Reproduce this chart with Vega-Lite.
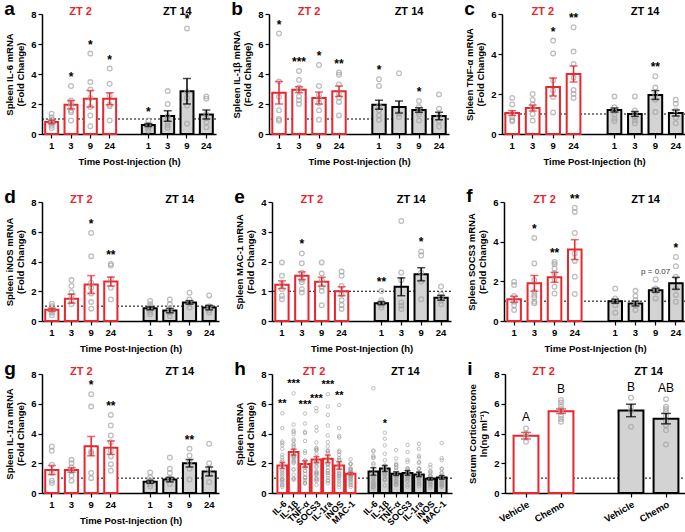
{
"$schema":"https://vega.github.io/schema/vega-lite/v6.json",
"padding":{"left":4,"top":0,"right":0,"bottom":0},
"config":{"font":"Liberation Sans","view":{"stroke":null},
"axis":{"labelFont":"Liberation Sans","titleFont":"Liberation Sans","labelFontWeight":"bold","labelFontSize":9.5,"labelColor":"black","titleFontSize":9.5,"titleFontWeight":"bold","titleColor":"black","domainColor":"black","domainWidth":1.5,"tickColor":"black","tickWidth":1.2,"tickSize":4,"labelPadding":2,"grid":false},
"axisX":{"titlePadding":7},
"axisY":{"titlePadding":5,"titleLineHeight":11.5,"labelOverlap":false},
"title":{"fontSize":19,"fontWeight":"bold","anchor":"start","frame":"bounds","offset":-13,"color":"black","font":"Liberation Sans"}},
"data":{"name":"d"},
"datasets":{"d":[
{"p":"a","x":"ZT2 1","g":"ZT 2","m":0.8,"e":0.12},
{"p":"a","x":"ZT2 3","g":"ZT 2","m":1.95,"e":0.28,"s":"*"},
{"p":"a","x":"ZT2 9","g":"ZT 2","m":2.35,"e":0.55,"s":"*"},
{"p":"a","x":"ZT2 24","g":"ZT 2","m":2.35,"e":0.4,"s":"*"},
{"p":"a","x":"ZT14 1","g":"ZT 14","m":0.6,"e":0.1,"s":"*"},
{"p":"a","x":"ZT14 3","g":"ZT 14","m":1.2,"e":0.35},
{"p":"a","x":"ZT14 9","g":"ZT 14","m":2.85,"e":0.85,"s":"*"},
{"p":"a","x":"ZT14 24","g":"ZT 14","m":1.3,"e":0.3},
{"p":"b","x":"ZT2 1","g":"ZT 2","m":2.75,"e":0.75,"s":"*"},
{"p":"b","x":"ZT2 3","g":"ZT 2","m":2.95,"e":0.2,"s":"***"},
{"p":"b","x":"ZT2 9","g":"ZT 2","m":2.4,"e":0.4,"s":"*"},
{"p":"b","x":"ZT2 24","g":"ZT 2","m":2.85,"e":0.35,"s":"**"},
{"p":"b","x":"ZT14 1","g":"ZT 14","m":1.95,"e":0.3,"s":"*"},
{"p":"b","x":"ZT14 3","g":"ZT 14","m":1.8,"e":0.4},
{"p":"b","x":"ZT14 9","g":"ZT 14","m":1.6,"e":0.15,"s":"*"},
{"p":"b","x":"ZT14 24","g":"ZT 14","m":1.2,"e":0.25},
{"p":"c","x":"ZT2 1","g":"ZT 2","m":1.05,"e":0.12},
{"p":"c","x":"ZT2 3","g":"ZT 2","m":1.3,"e":0.15},
{"p":"c","x":"ZT2 9","g":"ZT 2","m":2.35,"e":0.45,"s":"*"},
{"p":"c","x":"ZT2 24","g":"ZT 2","m":3.0,"e":0.4,"s":"**"},
{"p":"c","x":"ZT14 1","g":"ZT 14","m":1.2,"e":0.1},
{"p":"c","x":"ZT14 3","g":"ZT 14","m":1.0,"e":0.12},
{"p":"c","x":"ZT14 9","g":"ZT 14","m":1.95,"e":0.22,"s":"**"},
{"p":"c","x":"ZT14 24","g":"ZT 14","m":1.05,"e":0.15},
{"p":"d","x":"ZT2 1","g":"ZT 2","m":0.75,"e":0.1},
{"p":"d","x":"ZT2 3","g":"ZT 2","m":1.5,"e":0.3},
{"p":"d","x":"ZT2 9","g":"ZT 2","m":2.45,"e":0.6,"s":"*"},
{"p":"d","x":"ZT2 24","g":"ZT 2","m":2.65,"e":0.3,"s":"**"},
{"p":"d","x":"ZT14 1","g":"ZT 14","m":0.85,"e":0.1},
{"p":"d","x":"ZT14 3","g":"ZT 14","m":0.7,"e":0.15},
{"p":"d","x":"ZT14 9","g":"ZT 14","m":1.25,"e":0.12},
{"p":"d","x":"ZT14 24","g":"ZT 14","m":0.9,"e":0.15},
{"p":"e","x":"ZT2 1","g":"ZT 2","m":1.22,"e":0.13},
{"p":"e","x":"ZT2 3","g":"ZT 2","m":1.52,"e":0.13,"s":"*"},
{"p":"e","x":"ZT2 9","g":"ZT 2","m":1.32,"e":0.15},
{"p":"e","x":"ZT2 24","g":"ZT 2","m":1.0,"e":0.15},
{"p":"e","x":"ZT14 1","g":"ZT 14","m":0.6,"e":0.05,"s":"**"},
{"p":"e","x":"ZT14 3","g":"ZT 14","m":1.15,"e":0.3},
{"p":"e","x":"ZT14 9","g":"ZT 14","m":1.57,"e":0.22,"s":"*"},
{"p":"e","x":"ZT14 24","g":"ZT 14","m":0.78,"e":0.08},
{"p":"f","x":"ZT2 1","g":"ZT 2","m":1.1,"e":0.15},
{"p":"f","x":"ZT2 3","g":"ZT 2","m":1.9,"e":0.4,"s":"*"},
{"p":"f","x":"ZT2 9","g":"ZT 2","m":2.2,"e":0.25,"s":"**"},
{"p":"f","x":"ZT2 24","g":"ZT 2","m":3.6,"e":0.5,"s":"**"},
{"p":"f","x":"ZT14 1","g":"ZT 14","m":1.0,"e":0.1},
{"p":"f","x":"ZT14 3","g":"ZT 14","m":0.88,"e":0.12},
{"p":"f","x":"ZT14 9","g":"ZT 14","m":1.55,"e":0.1,"s":"p = 0.07"},
{"p":"f","x":"ZT14 24","g":"ZT 14","m":1.9,"e":0.3,"s":"*"},
{"p":"g","x":"ZT2 1","g":"ZT 2","m":1.55,"e":0.3},
{"p":"g","x":"ZT2 3","g":"ZT 2","m":1.55,"e":0.15},
{"p":"g","x":"ZT2 9","g":"ZT 2","m":3.15,"e":0.65,"s":"*"},
{"p":"g","x":"ZT2 24","g":"ZT 2","m":3.05,"e":0.45,"s":"**"},
{"p":"g","x":"ZT14 1","g":"ZT 14","m":0.75,"e":0.1},
{"p":"g","x":"ZT14 3","g":"ZT 14","m":0.9,"e":0.15},
{"p":"g","x":"ZT14 9","g":"ZT 14","m":2.0,"e":0.25,"s":"**"},
{"p":"g","x":"ZT14 24","g":"ZT 14","m":1.45,"e":0.3},
{"p":"h","h":"ZT2 IL-6","g":"ZT 2","m":1.85,"e":0.2,"s":"**"},
{"p":"h","h":"ZT2 IL-1β","g":"ZT 2","m":2.75,"e":0.2,"s":"***"},
{"p":"h","h":"ZT2 TNF-α","g":"ZT 2","m":1.95,"e":0.22,"s":"***"},
{"p":"h","h":"ZT2 SOCS3","g":"ZT 2","m":2.25,"e":0.2,"s":"***"},
{"p":"h","h":"ZT2 IL-1ra","g":"ZT 2","m":2.3,"e":0.25,"s":"***"},
{"p":"h","h":"ZT2 iNOS","g":"ZT 2","m":1.85,"e":0.25,"s":"**"},
{"p":"h","h":"ZT2 MAC-1","g":"ZT 2","m":1.3,"e":0.08},
{"p":"h","h":"ZT14 IL-6","g":"ZT 14","m":1.45,"e":0.25},
{"p":"h","h":"ZT14 IL-1β","g":"ZT 14","m":1.65,"e":0.2,"s":"*"},
{"p":"h","h":"ZT14 TNF-α","g":"ZT 14","m":1.3,"e":0.12},
{"p":"h","h":"ZT14 SOCS3","g":"ZT 14","m":1.35,"e":0.15},
{"p":"h","h":"ZT14 IL-1ra","g":"ZT 14","m":1.25,"e":0.15},
{"p":"h","h":"ZT14 iNOS","g":"ZT 14","m":0.95,"e":0.08},
{"p":"h","h":"ZT14 MAC-1","g":"ZT 14","m":1.05,"e":0.12},
{"p":"i","x":"ZT2 Vehicle","g":"ZT 2","m":3.85,"e":0.22,"s":"A"},
{"p":"i","x":"ZT2 Chemo","g":"ZT 2","m":5.5,"e":0.15,"s":"B"},
{"p":"i","x":"ZT14 Vehicle","g":"ZT 14","m":5.55,"e":0.42,"s":"B"},
{"p":"i","x":"ZT14 Chemo","g":"ZT 14","m":5.0,"e":0.35,"s":"AB"},
{"p":"a","x":"ZT2 1","h":"ZT2 IL-6","v":1.35},{"p":"a","x":"ZT2 1","h":"ZT2 IL-6","v":1.1},{"p":"a","x":"ZT2 1","h":"ZT2 IL-6","v":0.95},{"p":"a","x":"ZT2 1","h":"ZT2 IL-6","v":0.8},{"p":"a","x":"ZT2 1","h":"ZT2 IL-6","v":0.7},{"p":"a","x":"ZT2 1","h":"ZT2 IL-6","v":0.55},{"p":"a","x":"ZT2 1","h":"ZT2 IL-6","v":0.4},
{"p":"a","x":"ZT2 3","h":"ZT2 IL-6","v":3.2},{"p":"a","x":"ZT2 3","h":"ZT2 IL-6","v":2.23},{"p":"a","x":"ZT2 3","h":"ZT2 IL-6","v":2.1},{"p":"a","x":"ZT2 3","h":"ZT2 IL-6","v":1.85},{"p":"a","x":"ZT2 3","h":"ZT2 IL-6","v":1.55},{"p":"a","x":"ZT2 3","h":"ZT2 IL-6","v":1.45},{"p":"a","x":"ZT2 3","h":"ZT2 IL-6","v":0.9},
{"p":"a","x":"ZT2 9","h":"ZT2 IL-6","v":5.36},{"p":"a","x":"ZT2 9","h":"ZT2 IL-6","v":3.46},{"p":"a","x":"ZT2 9","h":"ZT2 IL-6","v":2.97},{"p":"a","x":"ZT2 9","h":"ZT2 IL-6","v":2.4},{"p":"a","x":"ZT2 9","h":"ZT2 IL-6","v":1.8},{"p":"a","x":"ZT2 9","h":"ZT2 IL-6","v":1.23},{"p":"a","x":"ZT2 9","h":"ZT2 IL-6","v":0.52},
{"p":"a","x":"ZT2 24","h":"ZT2 IL-6","v":4.36},{"p":"a","x":"ZT2 24","h":"ZT2 IL-6","v":3.35},{"p":"a","x":"ZT2 24","h":"ZT2 IL-6","v":2.57},{"p":"a","x":"ZT2 24","h":"ZT2 IL-6","v":1.95},{"p":"a","x":"ZT2 24","h":"ZT2 IL-6","v":1.85},{"p":"a","x":"ZT2 24","h":"ZT2 IL-6","v":0.9},
{"p":"a","x":"ZT14 1","h":"ZT14 IL-6","v":0.9},{"p":"a","x":"ZT14 1","h":"ZT14 IL-6","v":0.6},{"p":"a","x":"ZT14 1","h":"ZT14 IL-6","v":0.45},{"p":"a","x":"ZT14 1","h":"ZT14 IL-6","v":0.35},{"p":"a","x":"ZT14 1","h":"ZT14 IL-6","v":0.22},
{"p":"a","x":"ZT14 3","h":"ZT14 IL-6","v":2.86},{"p":"a","x":"ZT14 3","h":"ZT14 IL-6","v":2.0},{"p":"a","x":"ZT14 3","h":"ZT14 IL-6","v":1.18},{"p":"a","x":"ZT14 3","h":"ZT14 IL-6","v":1.0},{"p":"a","x":"ZT14 3","h":"ZT14 IL-6","v":0.74},{"p":"a","x":"ZT14 3","h":"ZT14 IL-6","v":0.56},{"p":"a","x":"ZT14 3","h":"ZT14 IL-6","v":0.4},
{"p":"a","x":"ZT14 9","h":"ZT14 IL-6","v":7.04},{"p":"a","x":"ZT14 9","h":"ZT14 IL-6","v":2.8},{"p":"a","x":"ZT14 9","h":"ZT14 IL-6","v":2.4},{"p":"a","x":"ZT14 9","h":"ZT14 IL-6","v":1.9},{"p":"a","x":"ZT14 9","h":"ZT14 IL-6","v":0.68},
{"p":"a","x":"ZT14 24","h":"ZT14 IL-6","v":2.5},{"p":"a","x":"ZT14 24","h":"ZT14 IL-6","v":2.35},{"p":"a","x":"ZT14 24","h":"ZT14 IL-6","v":1.34},{"p":"a","x":"ZT14 24","h":"ZT14 IL-6","v":1.05},{"p":"a","x":"ZT14 24","h":"ZT14 IL-6","v":0.78},{"p":"a","x":"ZT14 24","h":"ZT14 IL-6","v":0.45},
{"p":"b","x":"ZT2 1","h":"ZT2 IL-1β","v":6.7},{"p":"b","x":"ZT2 1","h":"ZT2 IL-1β","v":3.5},{"p":"b","x":"ZT2 1","h":"ZT2 IL-1β","v":2.48},{"p":"b","x":"ZT2 1","h":"ZT2 IL-1β","v":1.58},{"p":"b","x":"ZT2 1","h":"ZT2 IL-1β","v":1.0},{"p":"b","x":"ZT2 1","h":"ZT2 IL-1β","v":0.88},
{"p":"b","x":"ZT2 3","h":"ZT2 IL-1β","v":4.2},{"p":"b","x":"ZT2 3","h":"ZT2 IL-1β","v":3.6},{"p":"b","x":"ZT2 3","h":"ZT2 IL-1β","v":3.1},{"p":"b","x":"ZT2 3","h":"ZT2 IL-1β","v":2.9},{"p":"b","x":"ZT2 3","h":"ZT2 IL-1β","v":2.5},{"p":"b","x":"ZT2 3","h":"ZT2 IL-1β","v":2.25},{"p":"b","x":"ZT2 3","h":"ZT2 IL-1β","v":2.0},
{"p":"b","x":"ZT2 9","h":"ZT2 IL-1β","v":4.6},{"p":"b","x":"ZT2 9","h":"ZT2 IL-1β","v":3.2},{"p":"b","x":"ZT2 9","h":"ZT2 IL-1β","v":2.6},{"p":"b","x":"ZT2 9","h":"ZT2 IL-1β","v":2.36},{"p":"b","x":"ZT2 9","h":"ZT2 IL-1β","v":2.07},{"p":"b","x":"ZT2 9","h":"ZT2 IL-1β","v":1.58},{"p":"b","x":"ZT2 9","h":"ZT2 IL-1β","v":0.95},
{"p":"b","x":"ZT2 24","h":"ZT2 IL-1β","v":4.1},{"p":"b","x":"ZT2 24","h":"ZT2 IL-1β","v":3.95},{"p":"b","x":"ZT2 24","h":"ZT2 IL-1β","v":3.3},{"p":"b","x":"ZT2 24","h":"ZT2 IL-1β","v":2.66},{"p":"b","x":"ZT2 24","h":"ZT2 IL-1β","v":2.43},{"p":"b","x":"ZT2 24","h":"ZT2 IL-1β","v":2.14},{"p":"b","x":"ZT2 24","h":"ZT2 IL-1β","v":1.24},
{"p":"b","x":"ZT14 1","h":"ZT14 IL-1β","v":3.65},{"p":"b","x":"ZT14 1","h":"ZT14 IL-1β","v":3.2},{"p":"b","x":"ZT14 1","h":"ZT14 IL-1β","v":1.85},{"p":"b","x":"ZT14 1","h":"ZT14 IL-1β","v":1.58},{"p":"b","x":"ZT14 1","h":"ZT14 IL-1β","v":1.24},{"p":"b","x":"ZT14 1","h":"ZT14 IL-1β","v":0.95},
{"p":"b","x":"ZT14 3","h":"ZT14 IL-1β","v":4.05},{"p":"b","x":"ZT14 3","h":"ZT14 IL-1β","v":1.35},{"p":"b","x":"ZT14 3","h":"ZT14 IL-1β","v":1.13},
{"p":"b","x":"ZT14 9","h":"ZT14 IL-1β","v":2.2},{"p":"b","x":"ZT14 9","h":"ZT14 IL-1β","v":1.8},{"p":"b","x":"ZT14 9","h":"ZT14 IL-1β","v":1.46},{"p":"b","x":"ZT14 9","h":"ZT14 IL-1β","v":1.3},{"p":"b","x":"ZT14 9","h":"ZT14 IL-1β","v":0.9},
{"p":"b","x":"ZT14 24","h":"ZT14 IL-1β","v":2.64},{"p":"b","x":"ZT14 24","h":"ZT14 IL-1β","v":1.69},{"p":"b","x":"ZT14 24","h":"ZT14 IL-1β","v":1.24},{"p":"b","x":"ZT14 24","h":"ZT14 IL-1β","v":0.87},{"p":"b","x":"ZT14 24","h":"ZT14 IL-1β","v":0.5},
{"p":"c","x":"ZT2 1","h":"ZT2 TNF-α","v":1.8},{"p":"c","x":"ZT2 1","h":"ZT2 TNF-α","v":1.48},{"p":"c","x":"ZT2 1","h":"ZT2 TNF-α","v":1.04},{"p":"c","x":"ZT2 1","h":"ZT2 TNF-α","v":0.84},{"p":"c","x":"ZT2 1","h":"ZT2 TNF-α","v":0.7},{"p":"c","x":"ZT2 1","h":"ZT2 TNF-α","v":0.64},
{"p":"c","x":"ZT2 3","h":"ZT2 TNF-α","v":2.0},{"p":"c","x":"ZT2 3","h":"ZT2 TNF-α","v":1.7},{"p":"c","x":"ZT2 3","h":"ZT2 TNF-α","v":1.48},{"p":"c","x":"ZT2 3","h":"ZT2 TNF-α","v":1.3},{"p":"c","x":"ZT2 3","h":"ZT2 TNF-α","v":1.0},{"p":"c","x":"ZT2 3","h":"ZT2 TNF-α","v":0.67},
{"p":"c","x":"ZT2 9","h":"ZT2 TNF-α","v":4.67},{"p":"c","x":"ZT2 9","h":"ZT2 TNF-α","v":4.03},{"p":"c","x":"ZT2 9","h":"ZT2 TNF-α","v":2.69},{"p":"c","x":"ZT2 9","h":"ZT2 TNF-α","v":2.18},{"p":"c","x":"ZT2 9","h":"ZT2 TNF-α","v":1.85},{"p":"c","x":"ZT2 9","h":"ZT2 TNF-α","v":1.08},
{"p":"c","x":"ZT2 24","h":"ZT2 TNF-α","v":5.34},{"p":"c","x":"ZT2 24","h":"ZT2 TNF-α","v":4.12},{"p":"c","x":"ZT2 24","h":"ZT2 TNF-α","v":3.5},{"p":"c","x":"ZT2 24","h":"ZT2 TNF-α","v":2.82},{"p":"c","x":"ZT2 24","h":"ZT2 TNF-α","v":2.2},{"p":"c","x":"ZT2 24","h":"ZT2 TNF-α","v":2.0},{"p":"c","x":"ZT2 24","h":"ZT2 TNF-α","v":1.8},
{"p":"c","x":"ZT14 1","h":"ZT14 TNF-α","v":1.88},{"p":"c","x":"ZT14 1","h":"ZT14 TNF-α","v":1.34},{"p":"c","x":"ZT14 1","h":"ZT14 TNF-α","v":1.12},{"p":"c","x":"ZT14 1","h":"ZT14 TNF-α","v":0.97},{"p":"c","x":"ZT14 1","h":"ZT14 TNF-α","v":0.76},{"p":"c","x":"ZT14 1","h":"ZT14 TNF-α","v":0.64},
{"p":"c","x":"ZT14 3","h":"ZT14 TNF-α","v":1.88},{"p":"c","x":"ZT14 3","h":"ZT14 TNF-α","v":1.18},{"p":"c","x":"ZT14 3","h":"ZT14 TNF-α","v":1.04},{"p":"c","x":"ZT14 3","h":"ZT14 TNF-α","v":0.84},{"p":"c","x":"ZT14 3","h":"ZT14 TNF-α","v":0.67},{"p":"c","x":"ZT14 3","h":"ZT14 TNF-α","v":0.54},
{"p":"c","x":"ZT14 9","h":"ZT14 TNF-α","v":2.89},{"p":"c","x":"ZT14 9","h":"ZT14 TNF-α","v":2.32},{"p":"c","x":"ZT14 9","h":"ZT14 TNF-α","v":1.98},{"p":"c","x":"ZT14 9","h":"ZT14 TNF-α","v":1.71},{"p":"c","x":"ZT14 9","h":"ZT14 TNF-α","v":1.1},
{"p":"c","x":"ZT14 24","h":"ZT14 TNF-α","v":1.71},{"p":"c","x":"ZT14 24","h":"ZT14 TNF-α","v":1.51},{"p":"c","x":"ZT14 24","h":"ZT14 TNF-α","v":1.18},{"p":"c","x":"ZT14 24","h":"ZT14 TNF-α","v":0.81},{"p":"c","x":"ZT14 24","h":"ZT14 TNF-α","v":0.54},
{"p":"d","x":"ZT2 1","h":"ZT2 iNOS","v":1.16},{"p":"d","x":"ZT2 1","h":"ZT2 iNOS","v":1.0},{"p":"d","x":"ZT2 1","h":"ZT2 iNOS","v":0.72},{"p":"d","x":"ZT2 1","h":"ZT2 iNOS","v":0.56},{"p":"d","x":"ZT2 1","h":"ZT2 iNOS","v":0.38},
{"p":"d","x":"ZT2 3","h":"ZT2 iNOS","v":2.75},{"p":"d","x":"ZT2 3","h":"ZT2 iNOS","v":2.35},{"p":"d","x":"ZT2 3","h":"ZT2 iNOS","v":1.94},{"p":"d","x":"ZT2 3","h":"ZT2 iNOS","v":1.68},{"p":"d","x":"ZT2 3","h":"ZT2 iNOS","v":1.34},{"p":"d","x":"ZT2 3","h":"ZT2 iNOS","v":1.12},
{"p":"d","x":"ZT2 9","h":"ZT2 iNOS","v":5.92},{"p":"d","x":"ZT2 9","h":"ZT2 iNOS","v":4.36},{"p":"d","x":"ZT2 9","h":"ZT2 iNOS","v":2.57},{"p":"d","x":"ZT2 9","h":"ZT2 iNOS","v":2.23},{"p":"d","x":"ZT2 9","h":"ZT2 iNOS","v":1.85},{"p":"d","x":"ZT2 9","h":"ZT2 iNOS","v":1.27},{"p":"d","x":"ZT2 9","h":"ZT2 iNOS","v":0.83},
{"p":"d","x":"ZT2 24","h":"ZT2 iNOS","v":3.84},{"p":"d","x":"ZT2 24","h":"ZT2 iNOS","v":3.73},{"p":"d","x":"ZT2 24","h":"ZT2 iNOS","v":2.84},{"p":"d","x":"ZT2 24","h":"ZT2 iNOS","v":2.23},{"p":"d","x":"ZT2 24","h":"ZT2 iNOS","v":1.45},
{"p":"d","x":"ZT14 1","h":"ZT14 iNOS","v":1.34},{"p":"d","x":"ZT14 1","h":"ZT14 iNOS","v":1.12},{"p":"d","x":"ZT14 1","h":"ZT14 iNOS","v":0.96},{"p":"d","x":"ZT14 1","h":"ZT14 iNOS","v":0.74},{"p":"d","x":"ZT14 1","h":"ZT14 iNOS","v":0.6},{"p":"d","x":"ZT14 1","h":"ZT14 iNOS","v":0.45},
{"p":"d","x":"ZT14 3","h":"ZT14 iNOS","v":1.45},{"p":"d","x":"ZT14 3","h":"ZT14 iNOS","v":1.12},{"p":"d","x":"ZT14 3","h":"ZT14 iNOS","v":0.78},{"p":"d","x":"ZT14 3","h":"ZT14 iNOS","v":0.56},{"p":"d","x":"ZT14 3","h":"ZT14 iNOS","v":0.34},
{"p":"d","x":"ZT14 9","h":"ZT14 iNOS","v":1.9},{"p":"d","x":"ZT14 9","h":"ZT14 iNOS","v":1.45},{"p":"d","x":"ZT14 9","h":"ZT14 iNOS","v":1.18},{"p":"d","x":"ZT14 9","h":"ZT14 iNOS","v":0.9},
{"p":"d","x":"ZT14 24","h":"ZT14 iNOS","v":1.72},{"p":"d","x":"ZT14 24","h":"ZT14 iNOS","v":1.0},{"p":"d","x":"ZT14 24","h":"ZT14 iNOS","v":0.72},{"p":"d","x":"ZT14 24","h":"ZT14 iNOS","v":0.56},
{"p":"e","x":"ZT2 1","h":"ZT2 MAC-1","v":1.97},{"p":"e","x":"ZT2 1","h":"ZT2 MAC-1","v":1.52},{"p":"e","x":"ZT2 1","h":"ZT2 MAC-1","v":1.24},{"p":"e","x":"ZT2 1","h":"ZT2 MAC-1","v":1.07},{"p":"e","x":"ZT2 1","h":"ZT2 MAC-1","v":0.85},{"p":"e","x":"ZT2 1","h":"ZT2 MAC-1","v":0.73},
{"p":"e","x":"ZT2 3","h":"ZT2 MAC-1","v":2.27},{"p":"e","x":"ZT2 3","h":"ZT2 MAC-1","v":1.94},{"p":"e","x":"ZT2 3","h":"ZT2 MAC-1","v":1.62},{"p":"e","x":"ZT2 3","h":"ZT2 MAC-1","v":1.39},{"p":"e","x":"ZT2 3","h":"ZT2 MAC-1","v":1.3},{"p":"e","x":"ZT2 3","h":"ZT2 MAC-1","v":1.07},{"p":"e","x":"ZT2 3","h":"ZT2 MAC-1","v":0.96},
{"p":"e","x":"ZT2 9","h":"ZT2 MAC-1","v":1.97},{"p":"e","x":"ZT2 9","h":"ZT2 MAC-1","v":1.6},{"p":"e","x":"ZT2 9","h":"ZT2 MAC-1","v":1.37},{"p":"e","x":"ZT2 9","h":"ZT2 MAC-1","v":1.15},{"p":"e","x":"ZT2 9","h":"ZT2 MAC-1","v":1.01},{"p":"e","x":"ZT2 9","h":"ZT2 MAC-1","v":0.53},
{"p":"e","x":"ZT2 24","h":"ZT2 MAC-1","v":1.66},{"p":"e","x":"ZT2 24","h":"ZT2 MAC-1","v":1.52},{"p":"e","x":"ZT2 24","h":"ZT2 MAC-1","v":1.18},{"p":"e","x":"ZT2 24","h":"ZT2 MAC-1","v":0.9},{"p":"e","x":"ZT2 24","h":"ZT2 MAC-1","v":0.7},{"p":"e","x":"ZT2 24","h":"ZT2 MAC-1","v":0.54},{"p":"e","x":"ZT2 24","h":"ZT2 MAC-1","v":0.4},
{"p":"e","x":"ZT14 1","h":"ZT14 MAC-1","v":1.01},{"p":"e","x":"ZT14 1","h":"ZT14 MAC-1","v":0.7},{"p":"e","x":"ZT14 1","h":"ZT14 MAC-1","v":0.62},{"p":"e","x":"ZT14 1","h":"ZT14 MAC-1","v":0.54},{"p":"e","x":"ZT14 1","h":"ZT14 MAC-1","v":0.45},
{"p":"e","x":"ZT14 3","h":"ZT14 MAC-1","v":3.36},{"p":"e","x":"ZT14 3","h":"ZT14 MAC-1","v":1.63},{"p":"e","x":"ZT14 3","h":"ZT14 MAC-1","v":1.37},{"p":"e","x":"ZT14 3","h":"ZT14 MAC-1","v":0.62},{"p":"e","x":"ZT14 3","h":"ZT14 MAC-1","v":0.51},{"p":"e","x":"ZT14 3","h":"ZT14 MAC-1","v":0.4},
{"p":"e","x":"ZT14 9","h":"ZT14 MAC-1","v":2.34},{"p":"e","x":"ZT14 9","h":"ZT14 MAC-1","v":2.2},{"p":"e","x":"ZT14 9","h":"ZT14 MAC-1","v":1.63},{"p":"e","x":"ZT14 9","h":"ZT14 MAC-1","v":1.33},{"p":"e","x":"ZT14 9","h":"ZT14 MAC-1","v":0.73},
{"p":"e","x":"ZT14 24","h":"ZT14 MAC-1","v":1.16},{"p":"e","x":"ZT14 24","h":"ZT14 MAC-1","v":0.9},{"p":"e","x":"ZT14 24","h":"ZT14 MAC-1","v":0.81},{"p":"e","x":"ZT14 24","h":"ZT14 MAC-1","v":0.68},{"p":"e","x":"ZT14 24","h":"ZT14 MAC-1","v":0.56},
{"p":"f","x":"ZT2 1","h":"ZT2 SOCS3","v":1.98},{"p":"f","x":"ZT2 1","h":"ZT2 SOCS3","v":1.81},{"p":"f","x":"ZT2 1","h":"ZT2 SOCS3","v":1.26},{"p":"f","x":"ZT2 1","h":"ZT2 SOCS3","v":0.97},{"p":"f","x":"ZT2 1","h":"ZT2 SOCS3","v":0.8},{"p":"f","x":"ZT2 1","h":"ZT2 SOCS3","v":0.55},
{"p":"f","x":"ZT2 3","h":"ZT2 SOCS3","v":4.19},{"p":"f","x":"ZT2 3","h":"ZT2 SOCS3","v":2.9},{"p":"f","x":"ZT2 3","h":"ZT2 SOCS3","v":2.06},{"p":"f","x":"ZT2 3","h":"ZT2 SOCS3","v":1.47},{"p":"f","x":"ZT2 3","h":"ZT2 SOCS3","v":1.31},{"p":"f","x":"ZT2 3","h":"ZT2 SOCS3","v":1.19},{"p":"f","x":"ZT2 3","h":"ZT2 SOCS3","v":0.97},{"p":"f","x":"ZT2 3","h":"ZT2 SOCS3","v":0.89},
{"p":"f","x":"ZT2 9","h":"ZT2 SOCS3","v":2.98},{"p":"f","x":"ZT2 9","h":"ZT2 SOCS3","v":2.87},{"p":"f","x":"ZT2 9","h":"ZT2 SOCS3","v":2.65},{"p":"f","x":"ZT2 9","h":"ZT2 SOCS3","v":2.4},{"p":"f","x":"ZT2 9","h":"ZT2 SOCS3","v":2.09},{"p":"f","x":"ZT2 9","h":"ZT2 SOCS3","v":1.73},{"p":"f","x":"ZT2 9","h":"ZT2 SOCS3","v":1.39},
{"p":"f","x":"ZT2 24","h":"ZT2 SOCS3","v":5.71},{"p":"f","x":"ZT2 24","h":"ZT2 SOCS3","v":5.5},{"p":"f","x":"ZT2 24","h":"ZT2 SOCS3","v":4.44},{"p":"f","x":"ZT2 24","h":"ZT2 SOCS3","v":3.4},{"p":"f","x":"ZT2 24","h":"ZT2 SOCS3","v":3.03},{"p":"f","x":"ZT2 24","h":"ZT2 SOCS3","v":2.23},{"p":"f","x":"ZT2 24","h":"ZT2 SOCS3","v":1.36},
{"p":"f","x":"ZT14 1","h":"ZT14 SOCS3","v":1.64},{"p":"f","x":"ZT14 1","h":"ZT14 SOCS3","v":1.14},{"p":"f","x":"ZT14 1","h":"ZT14 SOCS3","v":0.97},{"p":"f","x":"ZT14 1","h":"ZT14 SOCS3","v":0.8},{"p":"f","x":"ZT14 1","h":"ZT14 SOCS3","v":0.42},
{"p":"f","x":"ZT14 3","h":"ZT14 SOCS3","v":1.52},{"p":"f","x":"ZT14 3","h":"ZT14 SOCS3","v":1.26},{"p":"f","x":"ZT14 3","h":"ZT14 SOCS3","v":1.05},{"p":"f","x":"ZT14 3","h":"ZT14 SOCS3","v":0.8},{"p":"f","x":"ZT14 3","h":"ZT14 SOCS3","v":0.55},
{"p":"f","x":"ZT14 9","h":"ZT14 SOCS3","v":2.09},{"p":"f","x":"ZT14 9","h":"ZT14 SOCS3","v":1.64},{"p":"f","x":"ZT14 9","h":"ZT14 SOCS3","v":1.47},{"p":"f","x":"ZT14 9","h":"ZT14 SOCS3","v":1.14},
{"p":"f","x":"ZT14 24","h":"ZT14 SOCS3","v":3.23},{"p":"f","x":"ZT14 24","h":"ZT14 SOCS3","v":2.76},{"p":"f","x":"ZT14 24","h":"ZT14 SOCS3","v":2.23},{"p":"f","x":"ZT14 24","h":"ZT14 SOCS3","v":1.64},{"p":"f","x":"ZT14 24","h":"ZT14 SOCS3","v":1.31},{"p":"f","x":"ZT14 24","h":"ZT14 SOCS3","v":0.97},
{"p":"g","x":"ZT2 1","h":"ZT2 IL-1ra","v":3.13},{"p":"g","x":"ZT2 1","h":"ZT2 IL-1ra","v":2.84},{"p":"g","x":"ZT2 1","h":"ZT2 IL-1ra","v":1.9},{"p":"g","x":"ZT2 1","h":"ZT2 IL-1ra","v":1.34},{"p":"g","x":"ZT2 1","h":"ZT2 IL-1ra","v":0.83},{"p":"g","x":"ZT2 1","h":"ZT2 IL-1ra","v":0.67},
{"p":"g","x":"ZT2 3","h":"ZT2 IL-1ra","v":2.23},{"p":"g","x":"ZT2 3","h":"ZT2 IL-1ra","v":2.0},{"p":"g","x":"ZT2 3","h":"ZT2 IL-1ra","v":1.72},{"p":"g","x":"ZT2 3","h":"ZT2 IL-1ra","v":1.5},{"p":"g","x":"ZT2 3","h":"ZT2 IL-1ra","v":1.18},{"p":"g","x":"ZT2 3","h":"ZT2 IL-1ra","v":0.83},
{"p":"g","x":"ZT2 9","h":"ZT2 IL-1ra","v":6.64},{"p":"g","x":"ZT2 9","h":"ZT2 IL-1ra","v":5.81},{"p":"g","x":"ZT2 9","h":"ZT2 IL-1ra","v":2.79},{"p":"g","x":"ZT2 9","h":"ZT2 IL-1ra","v":2.68},{"p":"g","x":"ZT2 9","h":"ZT2 IL-1ra","v":1.34},{"p":"g","x":"ZT2 9","h":"ZT2 IL-1ra","v":1.0},
{"p":"g","x":"ZT2 24","h":"ZT2 IL-1ra","v":5.25},{"p":"g","x":"ZT2 24","h":"ZT2 IL-1ra","v":4.54},{"p":"g","x":"ZT2 24","h":"ZT2 IL-1ra","v":3.87},{"p":"g","x":"ZT2 24","h":"ZT2 IL-1ra","v":3.42},{"p":"g","x":"ZT2 24","h":"ZT2 IL-1ra","v":2.84},{"p":"g","x":"ZT2 24","h":"ZT2 IL-1ra","v":2.46},{"p":"g","x":"ZT2 24","h":"ZT2 IL-1ra","v":1.94},{"p":"g","x":"ZT2 24","h":"ZT2 IL-1ra","v":1.5},
{"p":"g","x":"ZT14 1","h":"ZT14 IL-1ra","v":1.38},{"p":"g","x":"ZT14 1","h":"ZT14 IL-1ra","v":1.05},{"p":"g","x":"ZT14 1","h":"ZT14 IL-1ra","v":0.83},{"p":"g","x":"ZT14 1","h":"ZT14 IL-1ra","v":0.6},{"p":"g","x":"ZT14 1","h":"ZT14 IL-1ra","v":0.45},
{"p":"g","x":"ZT14 3","h":"ZT14 IL-1ra","v":2.39},{"p":"g","x":"ZT14 3","h":"ZT14 IL-1ra","v":1.63},{"p":"g","x":"ZT14 3","h":"ZT14 IL-1ra","v":1.34},{"p":"g","x":"ZT14 3","h":"ZT14 IL-1ra","v":1.0},{"p":"g","x":"ZT14 3","h":"ZT14 IL-1ra","v":0.6},
{"p":"g","x":"ZT14 9","h":"ZT14 IL-1ra","v":2.97},{"p":"g","x":"ZT14 9","h":"ZT14 IL-1ra","v":2.5},{"p":"g","x":"ZT14 9","h":"ZT14 IL-1ra","v":2.08},{"p":"g","x":"ZT14 9","h":"ZT14 IL-1ra","v":1.63},{"p":"g","x":"ZT14 9","h":"ZT14 IL-1ra","v":0.9},
{"p":"g","x":"ZT14 24","h":"ZT14 IL-1ra","v":3.31},{"p":"g","x":"ZT14 24","h":"ZT14 IL-1ra","v":2.0},{"p":"g","x":"ZT14 24","h":"ZT14 IL-1ra","v":1.63},{"p":"g","x":"ZT14 24","h":"ZT14 IL-1ra","v":1.27},{"p":"g","x":"ZT14 24","h":"ZT14 IL-1ra","v":0.74},
{"p":"i","x":"ZT2 Vehicle","v":4.34},{"p":"i","x":"ZT2 Vehicle","v":4.0},{"p":"i","x":"ZT2 Vehicle","v":3.78},{"p":"i","x":"ZT2 Vehicle","v":3.44},
{"p":"i","x":"ZT2 Chemo","v":6.25},{"p":"i","x":"ZT2 Chemo","v":6.09},{"p":"i","x":"ZT2 Chemo","v":5.84},{"p":"i","x":"ZT2 Chemo","v":5.64},{"p":"i","x":"ZT2 Chemo","v":5.46},{"p":"i","x":"ZT2 Chemo","v":5.19},{"p":"i","x":"ZT2 Chemo","v":4.97},{"p":"i","x":"ZT2 Chemo","v":4.79},
{"p":"i","x":"ZT14 Vehicle","v":6.4},{"p":"i","x":"ZT14 Vehicle","v":5.8},{"p":"i","x":"ZT14 Vehicle","v":5.5},{"p":"i","x":"ZT14 Vehicle","v":4.45},
{"p":"i","x":"ZT14 Chemo","v":6.31},{"p":"i","x":"ZT14 Chemo","v":5.8},{"p":"i","x":"ZT14 Chemo","v":5.64},{"p":"i","x":"ZT14 Chemo","v":5.46},{"p":"i","x":"ZT14 Chemo","v":5.19},{"p":"i","x":"ZT14 Chemo","v":4.79},{"p":"i","x":"ZT14 Chemo","v":4.56},{"p":"i","x":"ZT14 Chemo","v":4.22},{"p":"i","x":"ZT14 Chemo","v":3.26}
]},
"vconcat":[
{"hconcat":[
{"title":"a","width":174,"height":120,"layer":[
{"data":{"values":[{}]},"mark":{"type":"rule","strokeDash":[2,2],"color":"black","strokeWidth":1},"encoding":{"y":{"datum":1,"type":"quantitative"}}},
{"transform":[{"filter":"datum.p=='a' && isValid(datum.m)"}],"mark":{"type":"bar","width":{"band":0.67},"strokeWidth":2},"encoding":{"x":{"field":"x","type":"nominal","scale":{"domain":["ZT2 1","ZT2 3","ZT2 9","ZT2 24","gap","ZT14 1","ZT14 3","ZT14 9","ZT14 24"],"paddingInner":0,"paddingOuter":0},"axis":{"values":["ZT2 1","ZT2 3","ZT2 9","ZT2 24","ZT14 1","ZT14 3","ZT14 9","ZT14 24"],"labelExpr":"split(datum.value,' ')[1]","labelAngle":0,"title":"Time Post-Injection (h)"}},"y":{"field":"m","type":"quantitative","scale":{"domain":[0,8],"nice":false},"axis":{"title":["Spleen IL-6 mRNA","(Fold Change)"]}},"fill":{"field":"g","type":"nominal","scale":{"domain":["ZT 2","ZT 14"],"range":["#ffffff","#d3d3d3"]},"legend":null},"stroke":{"field":"g","type":"nominal","scale":{"domain":["ZT 2","ZT 14"],"range":["#e8262d","#000000"]},"legend":null}}},
{"transform":[{"filter":"datum.p=='a' && isValid(datum.v)"}],"mark":{"type":"point","shape":"circle","filled":false,"color":"#a3a3a3","size":22,"strokeWidth":1.3},"encoding":{"x":{"field":"x","type":"nominal"},"y":{"field":"v","type":"quantitative"}}},
{"transform":[{"filter":"datum.p=='a' && isValid(datum.m)"},{"calculate":"datum.m-datum.e","as":"lo"},{"calculate":"datum.m+datum.e","as":"hi"}],"encoding":{"x":{"field":"x","type":"nominal"},"color":{"field":"g","type":"nominal","scale":{"domain":["ZT 2","ZT 14"],"range":["#e8262d","#000000"]},"legend":null}},"layer":[{"mark":{"type":"rule","strokeWidth":1.5},"encoding":{"y":{"field":"lo","type":"quantitative"},"y2":{"field":"hi"}}},{"mark":{"type":"tick","size":8,"thickness":1.5},"encoding":{"y":{"field":"lo","type":"quantitative"}}},{"mark":{"type":"tick","size":8,"thickness":1.5},"encoding":{"y":{"field":"hi","type":"quantitative"}}}]},
{"transform":[{"filter":"datum.p=='a'"},{"joinaggregate":[{"op":"max","field":"v","as":"vmax"}],"groupby":["x"]},{"filter":"datum.s"}],"mark":{"type":"text","fontSize":12,"fontWeight":"bold","dy":-9,"color":"black"},"encoding":{"x":{"field":"x","type":"nominal"},"y":{"field":"vmax","type":"quantitative"},"text":{"field":"s"}}},
{"data":{"values":[{"x":"ZT2 9","t":"ZT 2","g":"ZT 2"},{"x":"ZT14 9","t":"ZT 14","g":"ZT 14"}]},"mark":{"type":"text","fontSize":11,"fontWeight":"bold","dy":-2},"encoding":{"x":{"field":"x","type":"nominal","bandPosition":0},"y":{"datum":8,"type":"quantitative"},"text":{"field":"t"},"color":{"field":"g","type":"nominal","legend":null}}}
]},
{"title":"b","width":180,"height":120,"layer":[
{"data":{"values":[{}]},"mark":{"type":"rule","strokeDash":[2,2],"color":"black","strokeWidth":1},"encoding":{"y":{"datum":1,"type":"quantitative"}}},
{"transform":[{"filter":"datum.p=='b' && isValid(datum.m)"}],"mark":{"type":"bar","width":{"band":0.67},"strokeWidth":2},"encoding":{"x":{"field":"x","type":"nominal","scale":{"domain":["ZT2 1","ZT2 3","ZT2 9","ZT2 24","gap","ZT14 1","ZT14 3","ZT14 9","ZT14 24"],"paddingInner":0,"paddingOuter":0},"axis":{"values":["ZT2 1","ZT2 3","ZT2 9","ZT2 24","ZT14 1","ZT14 3","ZT14 9","ZT14 24"],"labelExpr":"split(datum.value,' ')[1]","labelAngle":0,"title":"Time Post-Injection (h)"}},"y":{"field":"m","type":"quantitative","scale":{"domain":[0,8],"nice":false},"axis":{"title":["Spleen IL-1β mRNA","(Fold Change)"]}},"fill":{"field":"g","type":"nominal","scale":{"domain":["ZT 2","ZT 14"],"range":["#ffffff","#d3d3d3"]},"legend":null},"stroke":{"field":"g","type":"nominal","scale":{"domain":["ZT 2","ZT 14"],"range":["#e8262d","#000000"]},"legend":null}}},
{"transform":[{"filter":"datum.p=='b' && isValid(datum.v)"}],"mark":{"type":"point","shape":"circle","filled":false,"color":"#a3a3a3","size":22,"strokeWidth":1.3},"encoding":{"x":{"field":"x","type":"nominal"},"y":{"field":"v","type":"quantitative"}}},
{"transform":[{"filter":"datum.p=='b' && isValid(datum.m)"},{"calculate":"datum.m-datum.e","as":"lo"},{"calculate":"datum.m+datum.e","as":"hi"}],"encoding":{"x":{"field":"x","type":"nominal"},"color":{"field":"g","type":"nominal","scale":{"domain":["ZT 2","ZT 14"],"range":["#e8262d","#000000"]},"legend":null}},"layer":[{"mark":{"type":"rule","strokeWidth":1.5},"encoding":{"y":{"field":"lo","type":"quantitative"},"y2":{"field":"hi"}}},{"mark":{"type":"tick","size":8,"thickness":1.5},"encoding":{"y":{"field":"lo","type":"quantitative"}}},{"mark":{"type":"tick","size":8,"thickness":1.5},"encoding":{"y":{"field":"hi","type":"quantitative"}}}]},
{"transform":[{"filter":"datum.p=='b'"},{"joinaggregate":[{"op":"max","field":"v","as":"vmax"}],"groupby":["x"]},{"filter":"datum.s"}],"mark":{"type":"text","fontSize":12,"fontWeight":"bold","dy":-9,"color":"black"},"encoding":{"x":{"field":"x","type":"nominal"},"y":{"field":"vmax","type":"quantitative"},"text":{"field":"s"}}},
{"data":{"values":[{"x":"ZT2 9","t":"ZT 2","g":"ZT 2"},{"x":"ZT14 9","t":"ZT 14","g":"ZT 14"}]},"mark":{"type":"text","fontSize":11,"fontWeight":"bold","dy":-2},"encoding":{"x":{"field":"x","type":"nominal","bandPosition":0},"y":{"datum":8,"type":"quantitative"},"text":{"field":"t"},"color":{"field":"g","type":"nominal","legend":null}}}
]},
{"title":"c","width":184,"height":120,"layer":[
{"data":{"values":[{}]},"mark":{"type":"rule","strokeDash":[2,2],"color":"black","strokeWidth":1},"encoding":{"y":{"datum":1,"type":"quantitative"}}},
{"transform":[{"filter":"datum.p=='c' && isValid(datum.m)"}],"mark":{"type":"bar","width":{"band":0.67},"strokeWidth":2},"encoding":{"x":{"field":"x","type":"nominal","scale":{"domain":["ZT2 1","ZT2 3","ZT2 9","ZT2 24","gap","ZT14 1","ZT14 3","ZT14 9","ZT14 24"],"paddingInner":0,"paddingOuter":0},"axis":{"values":["ZT2 1","ZT2 3","ZT2 9","ZT2 24","ZT14 1","ZT14 3","ZT14 9","ZT14 24"],"labelExpr":"split(datum.value,' ')[1]","labelAngle":0,"title":"Time Post-Injection (h)"}},"y":{"field":"m","type":"quantitative","scale":{"domain":[0,6],"nice":false},"axis":{"title":["Spleen TNF-α mRNA","(Fold Change)"]}},"fill":{"field":"g","type":"nominal","scale":{"domain":["ZT 2","ZT 14"],"range":["#ffffff","#d3d3d3"]},"legend":null},"stroke":{"field":"g","type":"nominal","scale":{"domain":["ZT 2","ZT 14"],"range":["#e8262d","#000000"]},"legend":null}}},
{"transform":[{"filter":"datum.p=='c' && isValid(datum.v)"}],"mark":{"type":"point","shape":"circle","filled":false,"color":"#a3a3a3","size":22,"strokeWidth":1.3},"encoding":{"x":{"field":"x","type":"nominal"},"y":{"field":"v","type":"quantitative"}}},
{"transform":[{"filter":"datum.p=='c' && isValid(datum.m)"},{"calculate":"datum.m-datum.e","as":"lo"},{"calculate":"datum.m+datum.e","as":"hi"}],"encoding":{"x":{"field":"x","type":"nominal"},"color":{"field":"g","type":"nominal","scale":{"domain":["ZT 2","ZT 14"],"range":["#e8262d","#000000"]},"legend":null}},"layer":[{"mark":{"type":"rule","strokeWidth":1.5},"encoding":{"y":{"field":"lo","type":"quantitative"},"y2":{"field":"hi"}}},{"mark":{"type":"tick","size":8,"thickness":1.5},"encoding":{"y":{"field":"lo","type":"quantitative"}}},{"mark":{"type":"tick","size":8,"thickness":1.5},"encoding":{"y":{"field":"hi","type":"quantitative"}}}]},
{"transform":[{"filter":"datum.p=='c'"},{"joinaggregate":[{"op":"max","field":"v","as":"vmax"}],"groupby":["x"]},{"filter":"datum.s"}],"mark":{"type":"text","fontSize":12,"fontWeight":"bold","dy":-9,"color":"black"},"encoding":{"x":{"field":"x","type":"nominal"},"y":{"field":"vmax","type":"quantitative"},"text":{"field":"s"}}},
{"data":{"values":[{"x":"ZT2 9","t":"ZT 2","g":"ZT 2"},{"x":"ZT14 9","t":"ZT 14","g":"ZT 14"}]},"mark":{"type":"text","fontSize":11,"fontWeight":"bold","dy":-2},"encoding":{"x":{"field":"x","type":"nominal","bandPosition":0},"y":{"datum":6,"type":"quantitative"},"text":{"field":"t"},"color":{"field":"g","type":"nominal","legend":null}}}
]}
],"spacing":14},
{"vconcat":[
{"hconcat":[
{"title":"d","width":177,"height":119,"layer":[
{"data":{"values":[{}]},"mark":{"type":"rule","strokeDash":[2,2],"color":"black","strokeWidth":1},"encoding":{"y":{"datum":1,"type":"quantitative"}}},
{"transform":[{"filter":"datum.p=='d' && isValid(datum.m)"}],"mark":{"type":"bar","width":{"band":0.67},"strokeWidth":2},"encoding":{"x":{"field":"x","type":"nominal","scale":{"domain":["ZT2 1","ZT2 3","ZT2 9","ZT2 24","gap","ZT14 1","ZT14 3","ZT14 9","ZT14 24"],"paddingInner":0,"paddingOuter":0},"axis":{"values":["ZT2 1","ZT2 3","ZT2 9","ZT2 24","ZT14 1","ZT14 3","ZT14 9","ZT14 24"],"labelExpr":"split(datum.value,' ')[1]","labelAngle":0,"title":"Time Post-Injection (h)"}},"y":{"field":"m","type":"quantitative","scale":{"domain":[0,8],"nice":false},"axis":{"title":["Spleen iNOS mRNA","(Fold Change)"]}},"fill":{"field":"g","type":"nominal","scale":{"domain":["ZT 2","ZT 14"],"range":["#ffffff","#d3d3d3"]},"legend":null},"stroke":{"field":"g","type":"nominal","scale":{"domain":["ZT 2","ZT 14"],"range":["#e8262d","#000000"]},"legend":null}}},
{"transform":[{"filter":"datum.p=='d' && isValid(datum.v)"}],"mark":{"type":"point","shape":"circle","filled":false,"color":"#a3a3a3","size":22,"strokeWidth":1.3},"encoding":{"x":{"field":"x","type":"nominal"},"y":{"field":"v","type":"quantitative"}}},
{"transform":[{"filter":"datum.p=='d' && isValid(datum.m)"},{"calculate":"datum.m-datum.e","as":"lo"},{"calculate":"datum.m+datum.e","as":"hi"}],"encoding":{"x":{"field":"x","type":"nominal"},"color":{"field":"g","type":"nominal","scale":{"domain":["ZT 2","ZT 14"],"range":["#e8262d","#000000"]},"legend":null}},"layer":[{"mark":{"type":"rule","strokeWidth":1.5},"encoding":{"y":{"field":"lo","type":"quantitative"},"y2":{"field":"hi"}}},{"mark":{"type":"tick","size":8,"thickness":1.5},"encoding":{"y":{"field":"lo","type":"quantitative"}}},{"mark":{"type":"tick","size":8,"thickness":1.5},"encoding":{"y":{"field":"hi","type":"quantitative"}}}]},
{"transform":[{"filter":"datum.p=='d'"},{"joinaggregate":[{"op":"max","field":"v","as":"vmax"}],"groupby":["x"]},{"filter":"datum.s"}],"mark":{"type":"text","fontSize":12,"fontWeight":"bold","dy":-9,"color":"black"},"encoding":{"x":{"field":"x","type":"nominal"},"y":{"field":"vmax","type":"quantitative"},"text":{"field":"s"}}},
{"data":{"values":[{"x":"ZT2 9","t":"ZT 2","g":"ZT 2"},{"x":"ZT14 9","t":"ZT 14","g":"ZT 14"}]},"mark":{"type":"text","fontSize":11,"fontWeight":"bold","dy":-2},"encoding":{"x":{"field":"x","type":"nominal","bandPosition":0},"y":{"datum":8,"type":"quantitative"},"text":{"field":"t"},"color":{"field":"g","type":"nominal","legend":null}}}
]},
{"title":"e","width":179,"height":119,"layer":[
{"data":{"values":[{}]},"mark":{"type":"rule","strokeDash":[2,2],"color":"black","strokeWidth":1},"encoding":{"y":{"datum":1,"type":"quantitative"}}},
{"transform":[{"filter":"datum.p=='e' && isValid(datum.m)"}],"mark":{"type":"bar","width":{"band":0.67},"strokeWidth":2},"encoding":{"x":{"field":"x","type":"nominal","scale":{"domain":["ZT2 1","ZT2 3","ZT2 9","ZT2 24","gap","ZT14 1","ZT14 3","ZT14 9","ZT14 24"],"paddingInner":0,"paddingOuter":0},"axis":{"values":["ZT2 1","ZT2 3","ZT2 9","ZT2 24","ZT14 1","ZT14 3","ZT14 9","ZT14 24"],"labelExpr":"split(datum.value,' ')[1]","labelAngle":0,"title":"Time Post-Injection (h)"}},"y":{"field":"m","type":"quantitative","scale":{"domain":[0,4],"nice":false},"axis":{"title":["Spleen MAC-1 mRNA","(Fold Change)"]}},"fill":{"field":"g","type":"nominal","scale":{"domain":["ZT 2","ZT 14"],"range":["#ffffff","#d3d3d3"]},"legend":null},"stroke":{"field":"g","type":"nominal","scale":{"domain":["ZT 2","ZT 14"],"range":["#e8262d","#000000"]},"legend":null}}},
{"transform":[{"filter":"datum.p=='e' && isValid(datum.v)"}],"mark":{"type":"point","shape":"circle","filled":false,"color":"#a3a3a3","size":22,"strokeWidth":1.3},"encoding":{"x":{"field":"x","type":"nominal"},"y":{"field":"v","type":"quantitative"}}},
{"transform":[{"filter":"datum.p=='e' && isValid(datum.m)"},{"calculate":"datum.m-datum.e","as":"lo"},{"calculate":"datum.m+datum.e","as":"hi"}],"encoding":{"x":{"field":"x","type":"nominal"},"color":{"field":"g","type":"nominal","scale":{"domain":["ZT 2","ZT 14"],"range":["#e8262d","#000000"]},"legend":null}},"layer":[{"mark":{"type":"rule","strokeWidth":1.5},"encoding":{"y":{"field":"lo","type":"quantitative"},"y2":{"field":"hi"}}},{"mark":{"type":"tick","size":8,"thickness":1.5},"encoding":{"y":{"field":"lo","type":"quantitative"}}},{"mark":{"type":"tick","size":8,"thickness":1.5},"encoding":{"y":{"field":"hi","type":"quantitative"}}}]},
{"transform":[{"filter":"datum.p=='e'"},{"joinaggregate":[{"op":"max","field":"v","as":"vmax"}],"groupby":["x"]},{"filter":"datum.s"}],"mark":{"type":"text","fontSize":12,"fontWeight":"bold","dy":-9,"color":"black"},"encoding":{"x":{"field":"x","type":"nominal"},"y":{"field":"vmax","type":"quantitative"},"text":{"field":"s"}}},
{"data":{"values":[{"x":"ZT2 9","t":"ZT 2","g":"ZT 2"},{"x":"ZT14 9","t":"ZT 14","g":"ZT 14"}]},"mark":{"type":"text","fontSize":11,"fontWeight":"bold","dy":-2},"encoding":{"x":{"field":"x","type":"nominal","bandPosition":0},"y":{"datum":4,"type":"quantitative"},"text":{"field":"t"},"color":{"field":"g","type":"nominal","legend":null}}}
]},
{"title":"f","width":182,"height":119,"layer":[
{"data":{"values":[{}]},"mark":{"type":"rule","strokeDash":[2,2],"color":"black","strokeWidth":1},"encoding":{"y":{"datum":1,"type":"quantitative"}}},
{"transform":[{"filter":"datum.p=='f' && isValid(datum.m)"}],"mark":{"type":"bar","width":{"band":0.67},"strokeWidth":2},"encoding":{"x":{"field":"x","type":"nominal","scale":{"domain":["ZT2 1","ZT2 3","ZT2 9","ZT2 24","gap","ZT14 1","ZT14 3","ZT14 9","ZT14 24"],"paddingInner":0,"paddingOuter":0},"axis":{"values":["ZT2 1","ZT2 3","ZT2 9","ZT2 24","ZT14 1","ZT14 3","ZT14 9","ZT14 24"],"labelExpr":"split(datum.value,' ')[1]","labelAngle":0,"title":"Time Post-Injection (h)"}},"y":{"field":"m","type":"quantitative","scale":{"domain":[0,6],"nice":false},"axis":{"title":["Spleen SOCS3 mRNA","(Fold Change)"]}},"fill":{"field":"g","type":"nominal","scale":{"domain":["ZT 2","ZT 14"],"range":["#ffffff","#d3d3d3"]},"legend":null},"stroke":{"field":"g","type":"nominal","scale":{"domain":["ZT 2","ZT 14"],"range":["#e8262d","#000000"]},"legend":null}}},
{"transform":[{"filter":"datum.p=='f' && isValid(datum.v)"}],"mark":{"type":"point","shape":"circle","filled":false,"color":"#a3a3a3","size":22,"strokeWidth":1.3},"encoding":{"x":{"field":"x","type":"nominal"},"y":{"field":"v","type":"quantitative"}}},
{"transform":[{"filter":"datum.p=='f' && isValid(datum.m)"},{"calculate":"datum.m-datum.e","as":"lo"},{"calculate":"datum.m+datum.e","as":"hi"}],"encoding":{"x":{"field":"x","type":"nominal"},"color":{"field":"g","type":"nominal","scale":{"domain":["ZT 2","ZT 14"],"range":["#e8262d","#000000"]},"legend":null}},"layer":[{"mark":{"type":"rule","strokeWidth":1.5},"encoding":{"y":{"field":"lo","type":"quantitative"},"y2":{"field":"hi"}}},{"mark":{"type":"tick","size":8,"thickness":1.5},"encoding":{"y":{"field":"lo","type":"quantitative"}}},{"mark":{"type":"tick","size":8,"thickness":1.5},"encoding":{"y":{"field":"hi","type":"quantitative"}}}]},
{"transform":[{"filter":"datum.p=='f'"},{"joinaggregate":[{"op":"max","field":"v","as":"vmax"}],"groupby":["x"]},{"filter":"datum.s && datum.s[0]=='*'"}],"mark":{"type":"text","fontSize":12,"fontWeight":"bold","dy":-9,"color":"black"},"encoding":{"x":{"field":"x","type":"nominal"},"y":{"field":"vmax","type":"quantitative"},"text":{"field":"s"}}},
{"transform":[{"filter":"datum.p=='f'"},{"joinaggregate":[{"op":"max","field":"v","as":"vmax"}],"groupby":["x"]},{"filter":"datum.s && datum.s[0]=='p'"}],"mark":{"type":"text","fontSize":8,"dy":-8,"fill":"#333333","color":"#333333"},"encoding":{"x":{"field":"x","type":"nominal"},"y":{"field":"vmax","type":"quantitative"},"text":{"field":"s"}}},
{"data":{"values":[{"x":"ZT2 9","t":"ZT 2","g":"ZT 2"},{"x":"ZT14 9","t":"ZT 14","g":"ZT 14"}]},"mark":{"type":"text","fontSize":11,"fontWeight":"bold","dy":-2},"encoding":{"x":{"field":"x","type":"nominal","bandPosition":0},"y":{"datum":6,"type":"quantitative"},"text":{"field":"t"},"color":{"field":"g","type":"nominal","legend":null}}}
]}
],"spacing":14},
{"hconcat":[
{"title":"g","width":177,"height":119,"layer":[
{"data":{"values":[{}]},"mark":{"type":"rule","strokeDash":[2,2],"color":"black","strokeWidth":1},"encoding":{"y":{"datum":1,"type":"quantitative"}}},
{"transform":[{"filter":"datum.p=='g' && isValid(datum.m)"}],"mark":{"type":"bar","width":{"band":0.67},"strokeWidth":2},"encoding":{"x":{"field":"x","type":"nominal","scale":{"domain":["ZT2 1","ZT2 3","ZT2 9","ZT2 24","gap","ZT14 1","ZT14 3","ZT14 9","ZT14 24"],"paddingInner":0,"paddingOuter":0},"axis":{"values":["ZT2 1","ZT2 3","ZT2 9","ZT2 24","ZT14 1","ZT14 3","ZT14 9","ZT14 24"],"labelExpr":"split(datum.value,' ')[1]","labelAngle":0,"title":"Time Post-Injection (h)"}},"y":{"field":"m","type":"quantitative","scale":{"domain":[0,8],"nice":false},"axis":{"title":["Spleen IL-1ra mRNA","(Fold Change)"]}},"fill":{"field":"g","type":"nominal","scale":{"domain":["ZT 2","ZT 14"],"range":["#ffffff","#d3d3d3"]},"legend":null},"stroke":{"field":"g","type":"nominal","scale":{"domain":["ZT 2","ZT 14"],"range":["#e8262d","#000000"]},"legend":null}}},
{"transform":[{"filter":"datum.p=='g' && isValid(datum.v)"}],"mark":{"type":"point","shape":"circle","filled":false,"color":"#a3a3a3","size":22,"strokeWidth":1.3},"encoding":{"x":{"field":"x","type":"nominal"},"y":{"field":"v","type":"quantitative"}}},
{"transform":[{"filter":"datum.p=='g' && isValid(datum.m)"},{"calculate":"datum.m-datum.e","as":"lo"},{"calculate":"datum.m+datum.e","as":"hi"}],"encoding":{"x":{"field":"x","type":"nominal"},"color":{"field":"g","type":"nominal","scale":{"domain":["ZT 2","ZT 14"],"range":["#e8262d","#000000"]},"legend":null}},"layer":[{"mark":{"type":"rule","strokeWidth":1.5},"encoding":{"y":{"field":"lo","type":"quantitative"},"y2":{"field":"hi"}}},{"mark":{"type":"tick","size":8,"thickness":1.5},"encoding":{"y":{"field":"lo","type":"quantitative"}}},{"mark":{"type":"tick","size":8,"thickness":1.5},"encoding":{"y":{"field":"hi","type":"quantitative"}}}]},
{"transform":[{"filter":"datum.p=='g'"},{"joinaggregate":[{"op":"max","field":"v","as":"vmax"}],"groupby":["x"]},{"filter":"datum.s"}],"mark":{"type":"text","fontSize":12,"fontWeight":"bold","dy":-9,"color":"black"},"encoding":{"x":{"field":"x","type":"nominal"},"y":{"field":"vmax","type":"quantitative"},"text":{"field":"s"}}},
{"data":{"values":[{"x":"ZT2 9","t":"ZT 2","g":"ZT 2"},{"x":"ZT14 9","t":"ZT 14","g":"ZT 14"}]},"mark":{"type":"text","fontSize":11,"fontWeight":"bold","dy":-2},"encoding":{"x":{"field":"x","type":"nominal","bandPosition":0},"y":{"datum":8,"type":"quantitative"},"text":{"field":"t"},"color":{"field":"g","type":"nominal","legend":null}}}
]},
{"title":"h","width":180,"height":119,"layer":[
{"data":{"values":[{}]},"mark":{"type":"rule","strokeDash":[2,2],"color":"black","strokeWidth":1},"encoding":{"y":{"datum":1,"type":"quantitative"}}},
{"transform":[{"filter":"datum.p=='h'"}],"mark":{"type":"bar","width":{"band":0.85},"strokeWidth":2},"encoding":{"x":{"field":"h","type":"nominal","scale":{"domain":["ZT2 IL-6","ZT2 IL-1β","ZT2 TNF-α","ZT2 SOCS3","ZT2 IL-1ra","ZT2 iNOS","ZT2 MAC-1","gap","ZT14 IL-6","ZT14 IL-1β","ZT14 TNF-α","ZT14 SOCS3","ZT14 IL-1ra","ZT14 iNOS","ZT14 MAC-1"],"paddingInner":0,"paddingOuter":0.4},"axis":{"values":["ZT2 IL-6","ZT2 IL-1β","ZT2 TNF-α","ZT2 SOCS3","ZT2 IL-1ra","ZT2 iNOS","ZT2 MAC-1","ZT14 IL-6","ZT14 IL-1β","ZT14 TNF-α","ZT14 SOCS3","ZT14 IL-1ra","ZT14 iNOS","ZT14 MAC-1"],"labelExpr":"split(datum.value,' ')[1]","labelAngle":-45,"labelAlign":"right","labelBaseline":"top","labelFontSize":9,"title":null}},"y":{"field":"m","type":"quantitative","scale":{"domain":[0,8],"nice":false},"axis":{"title":["Spleen mRNA","(Fold Change)"]}},"fill":{"field":"g","type":"nominal","scale":{"domain":["ZT 2","ZT 14"],"range":["#ffffff","#d3d3d3"]},"legend":null},"stroke":{"field":"g","type":"nominal","scale":{"domain":["ZT 2","ZT 14"],"range":["#e8262d","#000000"]},"legend":null}}},
{"transform":[{"filter":"isValid(datum.v) && datum.p != 'i'"}],"mark":{"type":"point","shape":"circle","filled":false,"color":"#a3a3a3","size":12,"strokeWidth":1},"encoding":{"x":{"field":"h","type":"nominal"},"y":{"field":"v","type":"quantitative"}}},
{"transform":[{"filter":"datum.p=='h'"},{"calculate":"datum.m-datum.e","as":"lo"},{"calculate":"datum.m+datum.e","as":"hi"}],"encoding":{"x":{"field":"h","type":"nominal"},"color":{"field":"g","type":"nominal","scale":{"domain":["ZT 2","ZT 14"],"range":["#e8262d","#000000"]},"legend":null}},"layer":[{"mark":{"type":"rule","strokeWidth":1.5},"encoding":{"y":{"field":"lo","type":"quantitative"},"y2":{"field":"hi"}}},{"mark":{"type":"tick","size":6,"thickness":1.5},"encoding":{"y":{"field":"lo","type":"quantitative"}}},{"mark":{"type":"tick","size":6,"thickness":1.5},"encoding":{"y":{"field":"hi","type":"quantitative"}}}]},
{"transform":[{"filter":"(isValid(datum.v) && datum.p != 'i') || datum.p=='h'"},{"joinaggregate":[{"op":"max","field":"v","as":"vmax"}],"groupby":["h"]},{"filter":"datum.p=='h' && datum.s"}],"mark":{"type":"text","fontSize":11,"fontWeight":"bold","dy":-9,"color":"black"},"encoding":{"x":{"field":"h","type":"nominal"},"y":{"field":"vmax","type":"quantitative"},"text":{"field":"s"}}},
{"data":{"values":[{"h":"ZT2 SOCS3","t":"ZT 2","g":"ZT 2"},{"h":"ZT14 SOCS3","t":"ZT 14","g":"ZT 14"}]},"mark":{"type":"text","fontSize":11,"fontWeight":"bold","dy":-2},"encoding":{"x":{"field":"h","type":"nominal","bandPosition":0.3},"y":{"datum":8,"type":"quantitative"},"text":{"field":"t"},"color":{"field":"g","type":"nominal","legend":null}}}
]},
{"title":"i","width":182,"height":119,"layer":[
{"data":{"values":[{}]},"mark":{"type":"rule","strokeDash":[2,2],"color":"black","strokeWidth":1},"encoding":{"y":{"datum":1,"type":"quantitative"}}},
{"transform":[{"filter":"datum.p=='i' && isValid(datum.m)"}],"mark":{"type":"bar","width":{"band":0.71},"strokeWidth":2},"encoding":{"x":{"field":"x","type":"nominal","scale":{"domain":["ZT2 Vehicle","ZT2 Chemo","gap","ZT14 Vehicle","ZT14 Chemo"],"paddingInner":0,"paddingOuter":0.1},"axis":{"values":["ZT2 Vehicle","ZT2 Chemo","ZT14 Vehicle","ZT14 Chemo"],"labelExpr":"split(datum.value,' ')[1]","labelAngle":-30,"labelAlign":"right","labelBaseline":"top","title":null}},"y":{"field":"m","type":"quantitative","scale":{"domain":[0,8],"nice":false},"axis":{"title":["Serum Corticosterone","ln(ng ml⁻¹)"]}},"fill":{"field":"g","type":"nominal","scale":{"domain":["ZT 2","ZT 14"],"range":["#ffffff","#d3d3d3"]},"legend":null},"stroke":{"field":"g","type":"nominal","scale":{"domain":["ZT 2","ZT 14"],"range":["#e8262d","#000000"]},"legend":null}}},
{"transform":[{"filter":"datum.p=='i' && isValid(datum.v)"}],"mark":{"type":"point","shape":"circle","filled":false,"color":"#a3a3a3","size":22,"strokeWidth":1.3},"encoding":{"x":{"field":"x","type":"nominal"},"y":{"field":"v","type":"quantitative"}}},
{"transform":[{"filter":"datum.p=='i' && isValid(datum.m)"},{"calculate":"datum.m-datum.e","as":"lo"},{"calculate":"datum.m+datum.e","as":"hi"}],"encoding":{"x":{"field":"x","type":"nominal"},"color":{"field":"g","type":"nominal","scale":{"domain":["ZT 2","ZT 14"],"range":["#e8262d","#000000"]},"legend":null}},"layer":[{"mark":{"type":"rule","strokeWidth":1.5},"encoding":{"y":{"field":"lo","type":"quantitative"},"y2":{"field":"hi"}}},{"mark":{"type":"tick","size":10,"thickness":1.5},"encoding":{"y":{"field":"lo","type":"quantitative"}}},{"mark":{"type":"tick","size":10,"thickness":1.5},"encoding":{"y":{"field":"hi","type":"quantitative"}}}]},
{"transform":[{"filter":"datum.p=='i'"},{"joinaggregate":[{"op":"max","field":"v","as":"vmax"}],"groupby":["x"]},{"filter":"datum.s"}],"mark":{"type":"text","fontSize":12,"dy":-11,"color":"black"},"encoding":{"x":{"field":"x","type":"nominal"},"y":{"field":"vmax","type":"quantitative"},"text":{"field":"s"}}},
{"data":{"values":[{"x":"ZT2 Chemo","t":"ZT 2","g":"ZT 2"},{"x":"ZT14 Chemo","t":"ZT 14","g":"ZT 14"}]},"mark":{"type":"text","fontSize":11,"fontWeight":"bold","dy":-2},"encoding":{"x":{"field":"x","type":"nominal","bandPosition":0},"y":{"datum":8,"type":"quantitative"},"text":{"field":"t"},"color":{"field":"g","type":"nominal","legend":null}}}
]}
],"spacing":14}
],"spacing":7}
],"spacing":20
}
